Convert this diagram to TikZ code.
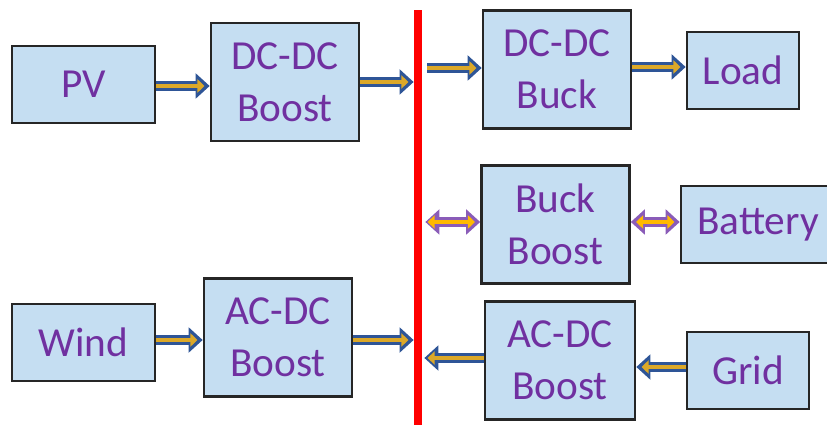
\documentclass[tikz,border=0pt]{standalone}
\usepackage{fontspec}
\setmainfont{Carlito}
\usepackage{xcolor}
\usetikzlibrary{arrows.meta,positioning}

\definecolor{boxblue}{HTML}{C5DEF2}
\definecolor{txtpurple}{HTML}{7030A0}
\definecolor{arrblue}{HTML}{2E5597}
\definecolor{arrgold}{HTML}{DCA828}
\definecolor{arrpurple}{HTML}{8A5CB8}
\definecolor{arramber}{HTML}{FFB900}

\tikzset{
  blk/.style={draw=black!85, line width=1.5pt, fill=boxblue, text=txtpurple,
    font=\fontsize{23.5}{29.5}\selectfont, align=center, inner sep=0pt,
    minimum width=2.96cm, minimum height=2.36cm},
  src/.style={blk, minimum height=1.54cm},
  flow/.style={draw=arrblue, line width=5.5pt, -{Triangle[length=8pt,width=14pt]},
    postaction={draw=arrgold, line width=2.8pt, shorten >=3pt,
      -{Triangle[length=4pt,width=7.5pt]}}},
  flowbi/.style={draw=arrpurple, line width=5.5pt,
    {Triangle[length=8pt,width=14pt]}-{Triangle[length=8pt,width=14pt]},
    postaction={draw=arramber, line width=2.8pt, shorten >=3pt, shorten <=3pt,
      {Triangle[length=4pt,width=7.5pt]}-{Triangle[length=4pt,width=7.5pt]}}}
}

\begin{document}
\begin{tikzpicture}[x=0.02cm, y=-0.02cm]
\useasboundingbox (0,0) rectangle (827,425);

% DC bus
\node[fill=red, inner sep=0pt, minimum width=0.16cm, minimum height=8.3cm] (bus) at (418,217.5) {};

% Sources
\node[src, minimum width=2.86cm] (pv) at (83.5,84.5) {PV};
\node[blk] (dcl) at (285,82) {DC-DC\\Boost};
\node[src, minimum width=2.86cm] (wind) at (83.5,342.5) {Wind};
\node[blk] (acl) at (278,337.5) {AC-DC\\Boost};

% Right side
\node[blk] (dcr) at (557,69.5) {DC-DC\\Buck};
\node[src, minimum width=2.24cm] (load) at (743,70.5) {Load};
\node[blk] (bb) at (555.5,224.5) {Buck\\Boost};
\node[src, minimum width=3.08cm] (bat) at (758,224.5) {Battery};
\node[blk, minimum width=3cm] (acr) at (560,360.5) {AC-DC\\Boost};
\node[src, minimum width=2.44cm] (grid) at (748,370.5) {Grid};

% Connectors
\draw[flow] ([yshift=-0.03cm]pv.east) -- ([yshift=-0.03cm]pv.east -| dcl.west);
\draw[flow] (dcl.east) -- (dcl.east -| bus.west);
\draw[flow, shorten <=0.1cm] ([yshift=0.03cm]bus.east |- dcr.west) -- ([yshift=0.03cm]dcr.west);
\draw[flow] ([yshift=0.05cm]dcr.east) -- ([yshift=0.05cm]dcr.east -| load.west);
\draw[flowbi, shorten <=0.06cm] ([yshift=0.05cm]bus.east |- bb.west) -- ([yshift=0.05cm]bb.west);
\draw[flowbi] ([yshift=0.05cm]bb.east) -- ([yshift=0.05cm]bb.east -| bat.west);
\draw[flow] ([yshift=0.05cm]wind.east) -- ([yshift=0.05cm]wind.east -| acl.west);
\draw[flow] ([yshift=-0.05cm]acl.east) -- ([yshift=-0.05cm]acl.east -| bus.west);
\draw[flow, shorten >=0.04cm] ([yshift=0.05cm]acr.west) -- ([yshift=0.05cm]acr.west -| bus.east);
\draw[flow] ([yshift=0.07cm]grid.west) -- ([yshift=0.07cm]grid.west -| acr.east);

\end{tikzpicture}
\end{document}
